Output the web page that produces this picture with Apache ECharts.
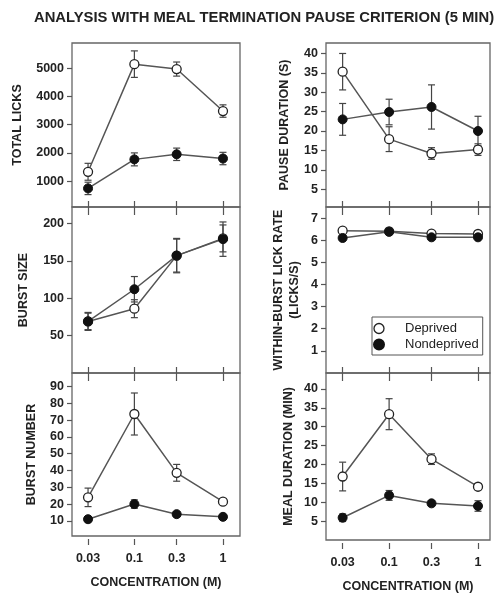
<!DOCTYPE html>
<html><head><meta charset="utf-8">
<script src="https://cdn.jsdelivr.net/npm/echarts@6/dist/echarts.min.js"></script>
<style>html,body{margin:0;padding:0;background:#fff}#c{width:502px;height:600px}</style>
</head><body><div id="c"></div>
<script>
// ---------- data ----------
const concentrations = [0.03, 0.1, 0.3, 1];
const concentrationLabels = ['0.03', '0.1', '0.3', '1'];

const totalLicksDeprived = [1330, 5150, 4975, 3485];
const totalLicksDeprivedErr = [300, 470, 250, 220];
const totalLicksNondeprived = [740, 1770, 1950, 1800];
const totalLicksNondeprivedErr = [220, 230, 220, 220];
const totalLicksTicks = [1000, 2000, 3000, 4000, 5000];

const pauseDeprived = [35.3, 17.9, 14.2, 15.2];
const pauseDeprivedErr = [4.7, 3.2, 1.5, 1.5];
const pauseNondeprived = [23.0, 24.9, 26.2, 20.0];
const pauseNondeprivedErr = [4.1, 3.3, 5.7, 3.8];
const pauseTicks = [5, 10, 15, 20, 25, 30, 35, 40];

const burstSizeDeprived = [69, 86, 157, 180];
const burstSizeDeprivedErr = [11, 12, 22, 18];
const burstSizeNondeprived = [69, 112, 157, 179];
const burstSizeNondeprivedErr = [12, 17, 23, 23];
const burstSizeTicks = [50, 100, 150, 200];

const lickRateDeprived = [6.43, 6.40, 6.30, 6.28];
const lickRateDeprivedErr = [0.05, 0.05, 0.05, 0.05];
const lickRateNondeprived = [6.10, 6.38, 6.13, 6.13];
const lickRateNondeprivedErr = [0.05, 0.05, 0.05, 0.05];
const lickRateTicks = [1, 2, 3, 4, 5, 6, 7];

const burstNumberDeprived = [24, 73.6, 38.6, 21.4];
const burstNumberDeprivedErr = [5.5, 12.5, 5, 1.5];
const burstNumberNondeprived = [11, 20, 14, 12.4];
const burstNumberNondeprivedErr = [1.5, 2.5, 1.5, 1.5];
const burstNumberTicks = [10, 20, 30, 40, 50, 60, 70, 80, 90];

const mealDeprived = [16.8, 33.3, 21.4, 14.1];
const mealDeprivedErr = [3.8, 4.1, 1.4, 0.8];
const mealNondeprived = [5.9, 11.8, 9.7, 9.0];
const mealNondeprivedErr = [1.0, 1.3, 0.7, 1.4];
const mealTicks = [5, 10, 15, 20, 25, 30, 35, 40];

const seriesNames = ['Deprived', 'Nondeprived'];
const titleText = 'ANALYSIS WITH MEAL TERMINATION PAUSE CRITERION (5 MIN)';
const xAxisTitle = 'CONCENTRATION (M)';

// ---------- layout ----------
const FONT = "'Liberation Sans', Arial, Helvetica, sans-serif";
const logConc = concentrations.map(c => Math.log10(c));
function concLabel(v) {
  for (let i = 0; i < logConc.length; i++) if (Math.abs(logConc[i] - v) < 1e-6) return concentrationLabels[i];
  return '';
}

const panels = [
  { name: 'TOTAL LICKS', dep: totalLicksDeprived, depE: totalLicksDeprivedErr, non: totalLicksNondeprived, nonE: totalLicksNondeprivedErr, ticks: totalLicksTicks,
    grid: { left: 72, top: 43, width: 168, height: 164 }, y: [80, 5900], x: [-1.704, 0.192], row: 0, nameGap: 46 },
  { name: 'PAUSE DURATION (S)', dep: pauseDeprived, depE: pauseDeprivedErr, non: pauseNondeprived, nonE: pauseNondeprivedErr, ticks: pauseTicks,
    grid: { left: 326, top: 43, width: 164, height: 164 }, y: [0.4, 42.7], x: [-1.71, 0.135], row: 0, nameGap: 33 },
  { name: 'BURST SIZE', dep: burstSizeDeprived, depE: burstSizeDeprivedErr, non: burstSizeNondeprived, nonE: burstSizeNondeprivedErr, ticks: burstSizeTicks,
    grid: { left: 72, top: 207, width: 168, height: 166 }, y: [0, 222], x: [-1.704, 0.192], row: 1, nameGap: 40 },
  { name: 'WITHIN-BURST LICK RATE\n(LICKS/S)', dep: lickRateDeprived, depE: lickRateDeprivedErr, non: lickRateNondeprived, nonE: lickRateNondeprivedErr, ticks: lickRateTicks,
    grid: { left: 326, top: 207, width: 164, height: 166 }, y: [0, 7.5], x: [-1.71, 0.135], row: 1, nameGap: 23 },
  { name: 'BURST NUMBER', dep: burstNumberDeprived, depE: burstNumberDeprivedErr, non: burstNumberNondeprived, nonE: burstNumberNondeprivedErr, ticks: burstNumberTicks,
    grid: { left: 72, top: 373, width: 168, height: 163 }, y: [1, 98], x: [-1.704, 0.192], row: 2, nameGap: 32 },
  { name: 'MEAL DURATION (MIN)', dep: mealDeprived, depE: mealDeprivedErr, non: mealNondeprived, nonE: mealNondeprivedErr, ticks: mealTicks,
    grid: { left: 326, top: 373, width: 164, height: 167 }, y: [0, 44.2], x: [-1.71, 0.135], row: 2, nameGap: 29 }
];

const LINE = '#555';
const TICKC = '#555';
const grids = [], xAxes = [], yAxes = [], series = [];

function errRender(params, api) {
  const x = api.value(0), y = api.value(1), e = api.value(2);
  const t = api.coord([x, y + e]), b = api.coord([x, y - e]);
  const hw = 3.5;
  const style = { stroke: '#444', lineWidth: 1.2 };
  return { type: 'group', children: [
    { type: 'line', shape: { x1: t[0], y1: t[1], x2: b[0], y2: b[1] }, style },
    { type: 'line', shape: { x1: t[0] - hw, y1: t[1], x2: t[0] + hw, y2: t[1] }, style },
    { type: 'line', shape: { x1: b[0] - hw, y1: b[1], x2: b[0] + hw, y2: b[1] }, style }
  ] };
}

panels.forEach((p, gi) => {
  grids.push(Object.assign({ show: true, borderColor: '#666', borderWidth: 1.3, backgroundColor: 'transparent' }, p.grid));
  const mainX = xAxes.length;
  const isBottom = p.row === 2;
  xAxes.push({
    type: 'value', gridIndex: gi, min: p.x[0], max: p.x[1], position: 'bottom',
    offset: isBottom ? 3 : 0,
    axisLine: { show: false, onZero: false },
    splitLine: { show: false },
    axisTick: { show: true, inside: false, length: isBottom ? 6 : 8, customValues: logConc, lineStyle: { color: TICKC, width: 1.2 } },
    axisLabel: { show: isBottom, customValues: logConc, formatter: concLabel, margin: 13, fontFamily: FONT, fontSize: 12.5, fontWeight: 'bold', color: '#222' },
    name: isBottom ? xAxisTitle : '', nameLocation: 'middle', nameGap: 37,
    nameTextStyle: { fontFamily: FONT, fontSize: 12.5, fontWeight: 'bold', color: '#222' }
  });
  if (p.row > 0) {
    xAxes.push({
      type: 'value', gridIndex: gi, min: p.x[0], max: p.x[1], position: 'top',
      axisLine: { show: false, onZero: false }, splitLine: { show: false },
      axisTick: { show: true, inside: false, length: 6, customValues: logConc, lineStyle: { color: TICKC, width: 1.2 } },
      axisLabel: { show: false }
    });
  }
  yAxes.push({
    type: 'value', gridIndex: gi, min: p.y[0], max: p.y[1],
    axisLine: { show: false, onZero: false }, splitLine: { show: false },
    axisTick: { show: true, inside: false, length: 5, customValues: p.ticks, lineStyle: { color: TICKC, width: 1.2 } },
    axisLabel: { customValues: p.ticks, formatter: v => String(v), margin: 8, fontFamily: FONT, fontSize: 12.5, fontWeight: 'bold', color: '#222' },
    name: p.name, nameLocation: 'middle', nameGap: p.nameGap, nameRotate: 90,
    nameTextStyle: { fontFamily: FONT, fontSize: 12.5, fontWeight: 'bold', color: '#222', lineHeight: 16 }
  });
  const groups = [
    { vals: p.dep, errs: p.depE, name: seriesNames[0], style: { color: '#fff', borderColor: '#222', borderWidth: 1.3 }, z: 3 },
    { vals: p.non, errs: p.nonE, name: seriesNames[1], style: { color: '#111', borderColor: '#111', borderWidth: 1 }, z: 4 }
  ];
  groups.forEach(g => {
    series.push({
      type: 'custom', xAxisIndex: mainX, yAxisIndex: gi, z: 1, silent: true,
      name: g.name + ' error', dimensions: ['x', 'y', 'err'], encode: { x: 0, y: 1 },
      renderItem: errRender,
      data: concentrations.map((c, i) => [Math.log10(c), g.vals[i], g.errs[i]])
    });
  });
  groups.forEach(g => {
    series.push({
      type: 'line', name: g.name, xAxisIndex: mainX, yAxisIndex: gi, z: g.z,
      symbol: 'circle', symbolSize: 9, showSymbol: true, animation: false,
      lineStyle: { color: LINE, width: 1.5 }, itemStyle: g.style,
      data: concentrations.map((c, i) => [Math.log10(c), g.vals[i]])
    });
  });
});

const chart = echarts.init(document.getElementById('c'), null, { renderer: 'canvas' });
chart.setOption({
  animation: false,
  backgroundColor: '#fff',
  title: { text: titleText, left: 29, top: 5, textStyle: { fontFamily: FONT, fontSize: 14.8, fontWeight: 'bold', color: '#222' } },
  legend: {
    left: 372, top: 317, orient: 'vertical', itemWidth: 10, itemHeight: 10, itemGap: 3,
    padding: [5, 4, 4, 1], borderColor: '#555', borderWidth: 1, backgroundColor: '#fff',
    selectedMode: false,
    textStyle: { fontFamily: FONT, fontSize: 13, color: '#222', lineHeight: 12, padding: [0, 0, 0, 16] },
    data: [
      { name: seriesNames[0], icon: 'circle', itemStyle: { color: '#fff', borderColor: '#222', borderWidth: 1.3 } },
      { name: seriesNames[1], icon: 'circle', itemStyle: { color: '#111' } }
    ]
  },
  grid: grids, xAxis: xAxes, yAxis: yAxes, series: series
});
</script>
</body></html>
